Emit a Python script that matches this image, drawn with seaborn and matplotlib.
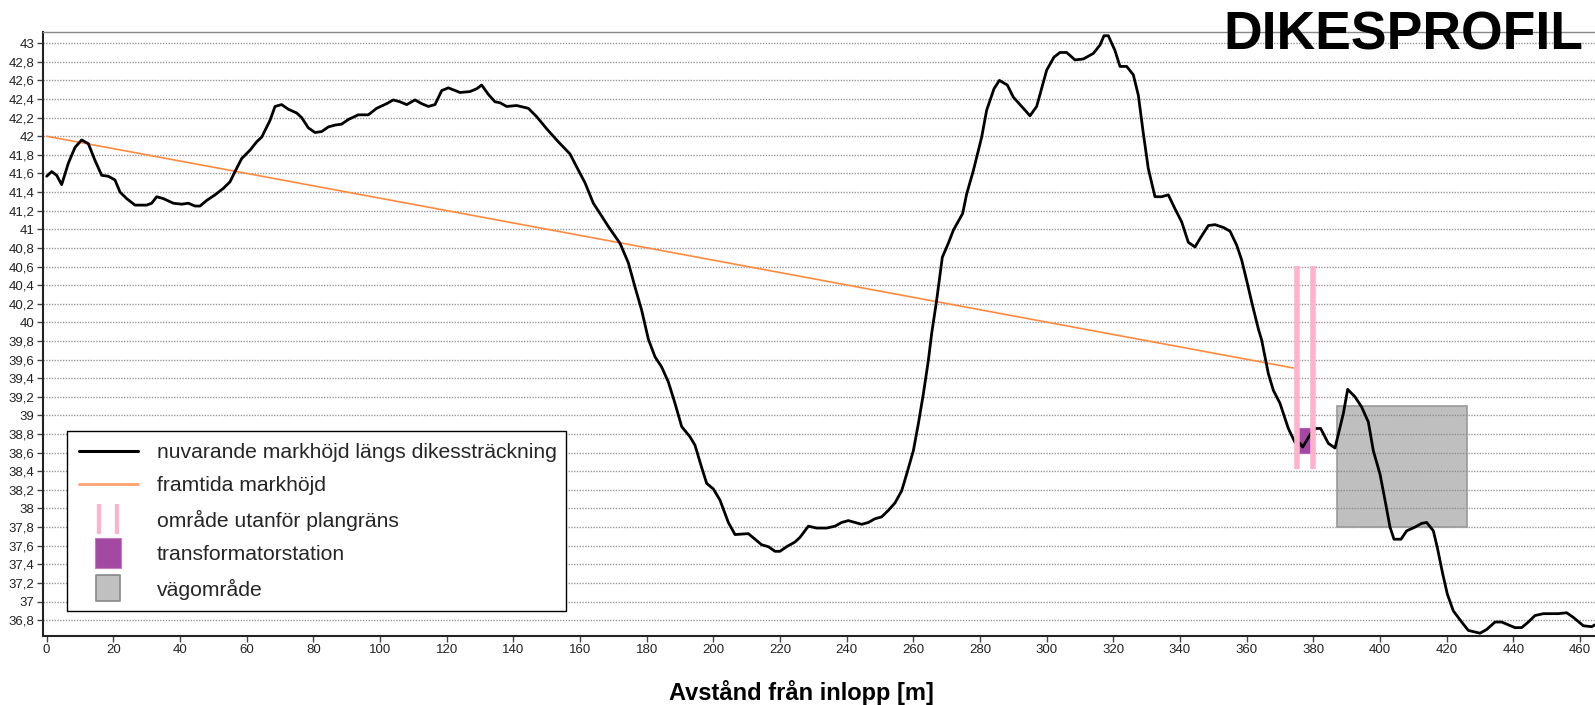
import numpy as np
import pandas as pd
import matplotlib
matplotlib.use("Agg")
import matplotlib.pyplot as plt
import seaborn as sns
from matplotlib.lines import Line2D
from matplotlib.patches import Rectangle
from matplotlib.path import Path
from matplotlib.ticker import FuncFormatter, FixedLocator

# ---------------- data ----------------
distance = [
    0, 1.5, 3, 4.5, 6.5, 8.5, 10.5, 12.5, 14.5, 16.5,
    18.5, 20.5, 22, 24, 26.5, 30, 31.5, 33, 35, 38,
    40.5, 42.5, 44.5, 46, 48, 50.5, 53, 55, 56.5, 58.5,
    61, 63, 64.5, 67, 68.5, 70.5, 72.5, 75, 76.5, 78.5,
    80.5, 82.5, 84.5, 86.5, 88.5, 90.5, 93.5, 96.5, 99, 102,
    104, 106, 108, 110.5, 112.5, 114.5, 116.5, 118.5, 120.5, 124,
    127, 129, 130.5, 132.5, 134.5, 136, 138, 141, 144.5, 147,
    150, 153.5, 157, 159, 161.5, 164, 166, 168.5, 172, 174.5,
    176.5, 178.5, 180.5, 182.5, 184.5, 186.5, 188.5, 190.5, 193, 194.5,
    196.5, 198, 200, 202, 204.5, 206.5, 210.5, 212.5, 214.5, 216.5,
    218.5, 220, 222, 224.5, 226, 228.5, 231, 234, 236.5, 238.5,
    240.5, 242.5, 244.5, 246.5, 248.5, 250.5, 252.5, 254.5, 256.5, 258,
    260, 261.5, 263, 264.5, 265.5, 267, 268.7, 270.5, 272, 274.8,
    276, 278, 280.5, 282, 284.2, 285.8, 288.2, 290, 292.5, 295,
    297, 300, 302.2, 304, 306, 308.5, 311, 314, 316, 317.2,
    318.5, 320.5, 322, 324, 326, 327.5, 329, 330.5, 332.5, 334.5,
    336.5, 338.5, 340.5, 342.5, 344.5, 346, 348.5, 350.5, 353, 355,
    357, 358.5, 360, 361.5, 363.5, 364.5, 366.5, 368, 370, 372.5,
    374.5, 376, 376.8, 379.5, 380.8, 382.2, 384.5, 386.5, 387.5, 389,
    390.3, 392.5, 394.5, 396.5, 398, 400, 401.5, 403, 404.2, 406.3,
    408, 410.5, 412.5, 414, 416, 417.2, 418.8, 420.2, 422, 424.5,
    426.5, 430, 432, 434.5, 436.5, 438.5, 440.5, 442.5, 444.5, 446.5,
    449, 453.5, 456, 458, 461, 463.5, 464.5,
]
elevation = [
    41.57, 41.62, 41.58, 41.48, 41.71, 41.88, 41.96, 41.92, 41.74, 41.58,
    41.57, 41.53, 41.40, 41.33, 41.26, 41.26, 41.28, 41.35, 41.33, 41.28,
    41.27, 41.28, 41.25, 41.25, 41.31, 41.37, 41.44, 41.51, 41.62, 41.76,
    41.85, 41.94, 41.99, 42.17, 42.32, 42.34, 42.29, 42.25, 42.20, 42.09,
    42.04, 42.05, 42.10, 42.12, 42.13, 42.18, 42.23, 42.23, 42.30, 42.35,
    42.39, 42.37, 42.34, 42.39, 42.35, 42.32, 42.34, 42.49, 42.52, 42.47,
    42.48, 42.51, 42.55, 42.45, 42.37, 42.36, 42.32, 42.33, 42.30, 42.21,
    42.08, 41.94, 41.81, 41.67, 41.50, 41.28, 41.17, 41.03, 40.85, 40.64,
    40.38, 40.13, 39.82, 39.63, 39.52, 39.36, 39.13, 38.88, 38.77, 38.68,
    38.44, 38.27, 38.21, 38.09, 37.85, 37.72, 37.73, 37.67, 37.61, 37.59,
    37.54, 37.54, 37.59, 37.64, 37.69, 37.81, 37.79, 37.79, 37.81, 37.85,
    37.87, 37.85, 37.83, 37.85, 37.89, 37.91, 37.98, 38.06, 38.19, 38.37,
    38.62, 38.91, 39.23, 39.59, 39.88, 40.24, 40.70, 40.85, 40.99, 41.17,
    41.38, 41.63, 41.99, 42.28, 42.51, 42.60, 42.55, 42.42, 42.32, 42.22,
    42.32, 42.71, 42.85, 42.90, 42.90, 42.82, 42.83, 42.89, 42.98, 43.08,
    43.08, 42.92, 42.75, 42.75, 42.66, 42.44, 42.03, 41.65, 41.35, 41.35,
    41.37, 41.22, 41.08, 40.86, 40.81, 40.90, 41.04, 41.05, 41.02, 40.98,
    40.83, 40.67, 40.45, 40.22, 39.93, 39.81, 39.45, 39.27, 39.13, 38.86,
    38.71, 38.70, 38.66, 38.82, 38.86, 38.86, 38.70, 38.65, 38.80, 39.02,
    39.28, 39.20, 39.09, 38.93, 38.62, 38.37, 38.09, 37.80, 37.67, 37.67,
    37.76, 37.80, 37.84, 37.85, 37.76, 37.58, 37.30, 37.08, 36.90, 36.78,
    36.69, 36.66, 36.70, 36.78, 36.78, 36.75, 36.72, 36.72, 36.78, 36.85,
    36.87, 36.87, 36.88, 36.83, 36.74, 36.73, 36.75,
]
future_distance = [0, 374]
future_elevation = [42.0, 39.51]

plangrans_x = [375.2, 380.0]
plangrans_y = [38.42, 40.61]
transformator_x = [374.8, 380.3]
transformator_y = [38.60, 38.87]
vag_x = [387.2, 426.2]
vag_y = [37.80, 39.10]

x_ticks = [0, 20, 40, 60, 80, 100, 120, 140, 160, 180, 200, 220, 240,
           260, 280, 300, 320, 340, 360, 380, 400, 420, 440, 460]
y_ticks = [36.8, 37.0, 37.2, 37.4, 37.6, 37.8, 38.0, 38.2, 38.4, 38.6,
           38.8, 39.0, 39.2, 39.4, 39.6, 39.8, 40.0, 40.2, 40.4, 40.6,
           40.8, 41.0, 41.2, 41.4, 41.6, 41.8, 42.0, 42.2, 42.4, 42.6,
           42.8, 43.0]

labels = ["nuvarande markhöjd längs dikessträckning", "framtida markhöjd",
          "område utanför plangräns", "transformatorstation", "vägområde"]

# ---------------- style ----------------
sns.set_theme(style="white")
plt.rcParams["font.family"] = ["Liberation Sans", "DejaVu Sans"]

fig = plt.figure(figsize=(15.95, 7.05), dpi=100)
ax = fig.add_axes([43 / 1595, 1 - 636 / 705, 1 - 43 / 1595, (636 - 32) / 705])

df = pd.DataFrame({"d": distance, "h": elevation})
dff = pd.DataFrame({"d": future_distance, "h": future_elevation})

# gray road area
ax.add_patch(Rectangle((vag_x[0], vag_y[0]), vag_x[1] - vag_x[0], vag_y[1] - vag_y[0],
                       facecolor=(0.5, 0.5, 0.5, 0.5), edgecolor="#999999", lw=1.2, zorder=2))
# transformer station
ax.add_patch(Rectangle((transformator_x[0], transformator_y[0]),
                       transformator_x[1] - transformator_x[0],
                       transformator_y[1] - transformator_y[0],
                       facecolor="#A349A4", edgecolor="#B060B0", lw=0.8, zorder=2))

sns.lineplot(data=dff, x="d", y="h", ax=ax, color="#FF8A3D", lw=1.2, zorder=3,
             estimator=None, legend=False)
sns.lineplot(data=df, x="d", y="h", ax=ax, color="black", lw=2.0, zorder=4,
             estimator=None, legend=False)

for px in plangrans_x:
    ax.plot([px, px], plangrans_y, color="#FFB3CB", lw=4, zorder=5, solid_capstyle="butt")

# axes
ax.set_xlim(-1.1, 464.5)
ax.set_ylim(36.63, 43.12)
ax.xaxis.set_major_locator(FixedLocator(x_ticks))
ax.yaxis.set_major_locator(FixedLocator(y_ticks))


def fmt(v, pos):
    if abs(v - round(v)) < 1e-6:
        return str(int(round(v)))
    return f"{v:.1f}".replace(".", ",")


ax.yaxis.set_major_formatter(FuncFormatter(fmt))
ax.yaxis.grid(True, color="#999999", lw=1.0, linestyle=(0, (1, 1)))
ax.xaxis.grid(False)
ax.tick_params(axis="both", which="major", direction="out", length=4, width=1,
               color="#444444", labelsize=9.5, labelcolor="#222222", pad=2,
               left=True, bottom=True)
ax.set_xlabel("")
ax.set_ylabel("")
for s in ["left", "bottom"]:
    ax.spines[s].set_color("#222222")
    ax.spines[s].set_linewidth(1.5)
ax.spines["top"].set_color("#888888")
ax.spines["top"].set_linewidth(1.0)
ax.spines["right"].set_visible(False)

# legend
two_bars = Path([(-0.567, -1), (-0.567, 1), (0.567, -1), (0.567, 1)],
                [Path.MOVETO, Path.LINETO, Path.MOVETO, Path.LINETO])
purple_box = Path([(-0.84, -1), (0.84, -1), (0.84, 1), (-0.84, 1), (-0.84, -1)],
                  [Path.MOVETO, Path.LINETO, Path.LINETO, Path.LINETO, Path.CLOSEPOLY])
gray_box = Path([(-0.926, -1), (0.926, -1), (0.926, 1), (-0.926, 1), (-0.926, -1)],
                [Path.MOVETO, Path.LINETO, Path.LINETO, Path.LINETO, Path.CLOSEPOLY])
handles = [
    Line2D([], [], color="black", lw=2.2),
    Line2D([], [], color="#FFA070", lw=2.0),
    Line2D([], [], ls="none", marker=two_bars, markersize=21.6,
           markeredgecolor="#FFB3CB", markeredgewidth=3.0),
    Line2D([], [], ls="none", marker=purple_box, markersize=22.3,
           markerfacecolor="#A349A4", markeredgecolor="#C080C0", markeredgewidth=0.8),
    Line2D([], [], ls="none", marker=gray_box, markersize=19.4,
           markerfacecolor="#C0C0C0", markeredgecolor="#888888", markeredgewidth=1.2),
]
leg = ax.legend(handles, labels, loc="lower left",
                bbox_to_anchor=(0.0155, 0.041, 0.3215, 0.31), mode="expand",
                fontsize=15.2, frameon=True, fancybox=False, framealpha=1,
                edgecolor="black", handlelength=2.8, handletextpad=0.9,
                labelspacing=0.68, borderpad=0.55, numpoints=1, borderaxespad=0)
leg.get_frame().set_linewidth(1.0)
leg.set_zorder(10)

fig.text(1583 / 1595, 1 - 10 / 705, "DIKESPROFIL", ha="right", va="top",
         fontsize=38.5, fontweight="bold", color="black")
fig.text(801 / 1595, 1 - 700 / 705, "Avstånd från inlopp [m]", ha="center",
         va="baseline", fontsize=17, fontweight="bold", color="black")

fig.savefig("out.png", dpi=100)
